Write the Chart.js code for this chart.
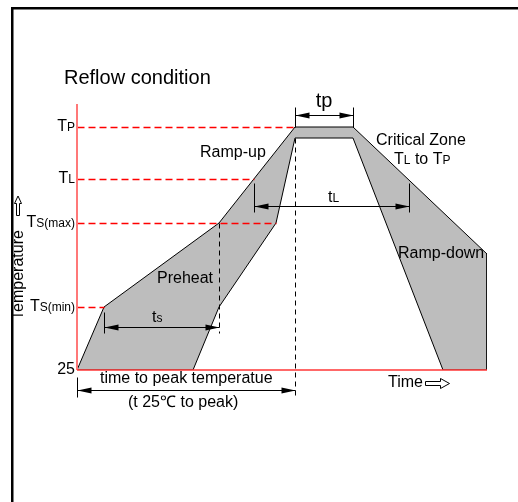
<!DOCTYPE html>
<html>
<head>
<meta charset="utf-8">
<script src="https://cdn.jsdelivr.net/npm/chart.js@4.4.1/dist/chart.umd.min.js"></script>
<style>
  html, body { margin: 0; padding: 0; background: #fff; }
  canvas { display: block; }
</style>
</head>
<body>
<canvas id="grafica" width="518" height="502"></canvas>
<script>
// Temperature levels (schematic units, 25 = baseline)
const tempLabels = [["T", "P"], ["T", "L"], ["T", "S(max)"], ["T", "S(min)"], ["25", ""]];
const tempValues = [268, 216, 172, 88, 25];
// where each red dashed level line meets the profile (time units)
const levelEnds = [218, 177, 199, 27, null];

// Profile band: outer (upper) edge and inner (lower) edge
const outerTime = [0, 27, 142, 218, 276, 410, 410];
const outerTemp = [25, 88, 172, 268, 268, 141, 25];
const innerTime = [0, 116, 142, 199, 218, 276, 366, 410];
const innerTemp = [25, 25, 88, 172, 257, 257, 25, 25];

const FONT = '"Liberation Sans", Arial, Helvetica, sans-serif';

// closed polygon = outer edge, then inner edge walked backwards
const band = outerTime.map((t, i) => ({ x: t, y: outerTemp[i] }))
  .concat(innerTime.map((t, i) => ({ x: t, y: innerTemp[i] })).reverse());

function rich(ctx, parts, x, y, align) {
  let w = 0;
  parts.forEach(p => { ctx.font = p[1] + "px " + FONT; w += ctx.measureText(p[0]).width; });
  let cx = align === "right" ? x - w : align === "center" ? x - w / 2 : x;
  ctx.textAlign = "left";
  ctx.textBaseline = "alphabetic";
  parts.forEach(p => {
    ctx.font = p[1] + "px " + FONT;
    ctx.fillText(p[0], cx, y);
    cx += ctx.measureText(p[0]).width;
  });
}

function head(ctx, x, y, dir) {
  ctx.beginPath();
  ctx.moveTo(x, y);
  ctx.lineTo(x - dir * 14, y - 3);
  ctx.lineTo(x - dir * 14, y + 3);
  ctx.closePath();
  ctx.fill();
}

function line(ctx, x1, y1, x2, y2) {
  ctx.beginPath();
  ctx.moveTo(x1, y1);
  ctx.lineTo(x2, y2);
  ctx.stroke();
}

const overlay = {
  id: "overlay",
  afterDatasetsDraw(chart) {
    const ctx = chart.ctx;
    const xs = chart.scales.x, ys = chart.scales.y;
    const px = v => Math.round(xs.getPixelForValue(v)) + 0.5;
    const py = v => Math.round(ys.getPixelForValue(v)) + 0.5;
    ctx.save();

    // frame
    ctx.fillStyle = "#000";
    ctx.fillRect(11, 7, 2.5, 495);
    ctx.fillRect(11, 7, 507, 2.5);

    // red dashed level lines
    ctx.strokeStyle = "#ff0000";
    ctx.lineWidth = 1.4;
    ctx.setLineDash([7, 4]);
    tempValues.forEach((v, i) => {
      if (levelEnds[i] !== null) line(ctx, px(0), py(v), px(levelEnds[i]), py(v));
    });

    // black dashed verticals
    ctx.strokeStyle = "#000";
    ctx.lineWidth = 1;
    ctx.setLineDash([5, 4]);
    line(ctx, px(142), py(172), px(142), py(62));
    line(ctx, px(218), py(257), px(218), py(-2));
    ctx.setLineDash([]);

    // axes
    ctx.strokeStyle = "#ff7878";
    ctx.lineWidth = 2;
    line(ctx, xs.getPixelForValue(0), ys.getPixelForValue(291), xs.getPixelForValue(0), ys.getPixelForValue(25));
    ctx.strokeStyle = "#ff3636";
    ctx.lineWidth = 1.5;
    line(ctx, xs.getPixelForValue(0), ys.getPixelForValue(25), xs.getPixelForValue(410), ys.getPixelForValue(25));

    // dimension arrows
    ctx.strokeStyle = "#000";
    ctx.fillStyle = "#000";
    ctx.lineWidth = 1;
    const dims = [
      { a: 218, b: 276, y: 280, ticks: [[218, 288, 268], [276, 288, 268]] },
      { a: 177, b: 332, y: 189, ticks: [[177, 212, 183], [332, 212, 183]] },
      { a: 27, b: 142, y: 68, ticks: [[27, 83, 62]] },
      { a: 0, b: 218, y: 5, ticks: [[0, 18, -2]] }
    ];
    dims.forEach(d => {
      line(ctx, px(d.a), py(d.y), px(d.b), py(d.y));
      head(ctx, px(d.a), py(d.y), -1);
      head(ctx, px(d.b), py(d.y), 1);
      d.ticks.forEach(t => line(ctx, px(t[0]), py(t[1]), px(t[0]), py(t[2])));
    });

    // tick labels
    ctx.fillStyle = "#000";
    tempValues.forEach((v, i) => {
      rich(ctx, [[tempLabels[i][0], 16], [tempLabels[i][1], 12]], 75, ys.getPixelForValue(v) + 4, "right");
    });

    // labels
    rich(ctx, [["Reflow condition", 20]], 64, 84, "left");
    rich(ctx, [["Ramp-up", 16]], 200, 157, "left");
    rich(ctx, [["Critical Zone", 16]], 376, 145, "left");
    rich(ctx, [["T", 16], ["L", 12], [" to T", 16], ["P", 12]], 394, 164, "left");
    rich(ctx, [["tp", 20]], 324, 107, "center");
    rich(ctx, [["t", 16], ["L", 12]], 328, 202, "left");
    rich(ctx, [["Ramp-down", 16]], 398, 258, "left");
    rich(ctx, [["Preheat", 16]], 157, 283, "left");
    rich(ctx, [["t", 16], ["s", 12]], 152, 322, "left");
    rich(ctx, [["time to peak temperatue", 16]], 100, 383, "left");
    rich(ctx, [["(t 25\u2103 to peak)", 16]], 128, 407, "left");
    rich(ctx, [["Time", 16]], 388, 387, "left");

    // vertical axis title
    ctx.save();
    ctx.translate(23, 275);
    ctx.rotate(-Math.PI / 2);
    ctx.font = "16px " + FONT;
    ctx.textAlign = "center";
    ctx.fillText("Temperature", 0, 0);
    ctx.restore();

    // hollow arrows
    ctx.fillStyle = "#fff";
    ctx.strokeStyle = "#000";
    ctx.lineWidth = 1;
    ctx.beginPath();
    ctx.moveTo(18, 196);
    ctx.lineTo(21.5, 203.5);
    ctx.lineTo(19.5, 203.5);
    ctx.lineTo(19.5, 215.5);
    ctx.lineTo(16.5, 215.5);
    ctx.lineTo(16.5, 203.5);
    ctx.lineTo(14.5, 203.5);
    ctx.closePath();
    ctx.fill();
    ctx.stroke();

    ctx.beginPath();
    ctx.moveTo(425.5, 381.5);
    ctx.lineTo(440.5, 381.5);
    ctx.lineTo(440.5, 378.5);
    ctx.lineTo(449.5, 383.5);
    ctx.lineTo(440.5, 388.5);
    ctx.lineTo(440.5, 385.5);
    ctx.lineTo(425.5, 385.5);
    ctx.closePath();
    ctx.fill();
    ctx.stroke();

    ctx.restore();
  }
};

new Chart(document.getElementById("grafica").getContext("2d"), {
  type: "line",
  data: {
    datasets: [{
      label: "Reflow profile",
      data: band,
      borderColor: "#000",
      borderWidth: 1,
      backgroundColor: "#bdbdbd",
      fill: "shape",
      pointRadius: 0,
      tension: 0
    }]
  },
  options: {
    responsive: false,
    animation: false,
    events: [],
    layout: { padding: { left: 77, right: 31, top: 104, bottom: 132 } },
    plugins: { legend: { display: false }, tooltip: { enabled: false } },
    scales: {
      x: { type: "linear", min: 0, max: 410, display: false },
      y: { type: "linear", min: 25, max: 291, display: false }
    }
  },
  plugins: [overlay]
});
</script>
</body>
</html>
